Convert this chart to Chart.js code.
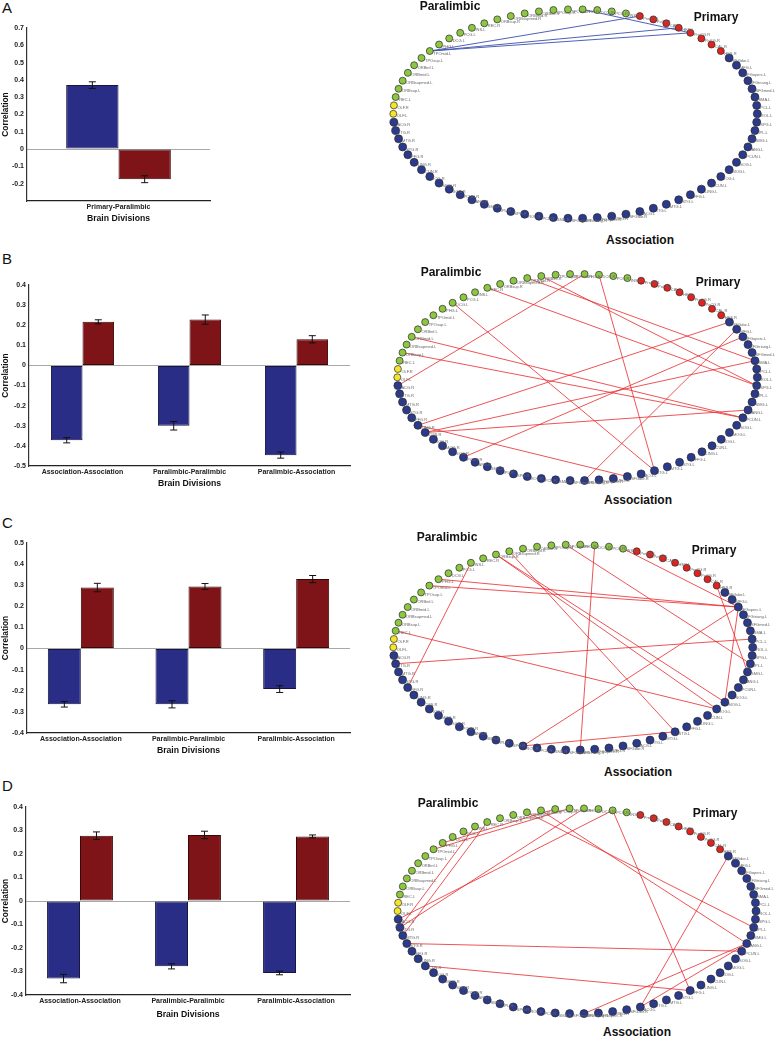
<!DOCTYPE html>
<html><head><meta charset="utf-8">
<script src="https://cdn.jsdelivr.net/npm/chart.js@4.4.1/dist/chart.umd.min.js"></script>
<style>
html,body{margin:0;padding:0;background:#fff}
body{width:776px;height:1037px;position:relative;overflow:hidden;font-family:"Liberation Sans",Arial,sans-serif}
canvas{position:absolute}
.letter{position:absolute;font-size:15px;color:#111;line-height:1}
.ttl{position:absolute;font-weight:bold;font-size:12px;color:#111;transform:translate(-50%,-50%);white-space:nowrap;line-height:1}
</style></head>
<body>
<div class="letter" style="left:2px;top:0px">A</div>
<div class="letter" style="left:2px;top:251px">B</div>
<div class="letter" style="left:2px;top:515px">C</div>
<div class="letter" style="left:2px;top:778px">D</div>

<canvas id="barA"></canvas><canvas id="barB"></canvas><canvas id="barC"></canvas><canvas id="barD"></canvas>
<canvas id="netA"></canvas><canvas id="netB"></canvas><canvas id="netC"></canvas><canvas id="netD"></canvas>

<div class="ttl" style="left:450px;top:6px">Paralimbic</div>
<div class="ttl" style="left:716px;top:17px">Primary</div>
<div class="ttl" style="left:640px;top:240px">Association</div>
<div class="ttl" style="left:451px;top:272px">Paralimbic</div>
<div class="ttl" style="left:718px;top:282px">Primary</div>
<div class="ttl" style="left:638px;top:500px">Association</div>
<div class="ttl" style="left:447px;top:537px">Paralimbic</div>
<div class="ttl" style="left:714px;top:550px">Primary</div>
<div class="ttl" style="left:638px;top:772px">Association</div>
<div class="ttl" style="left:448px;top:803px">Paralimbic</div>
<div class="ttl" style="left:715px;top:813px">Primary</div>
<div class="ttl" style="left:637px;top:1032px">Association</div>

<script>
// ---------------- bar chart data ----------------
const catsA = ['Primary-Paralimbic'];
const blueA = [0.370];  const blueErrA = [0.019];
const redA  = [-0.174]; const redErrA  = [0.020];
const ticksA = ['0.7','0.6','0.5','0.4','0.3','0.2','0.1','0','-0.1','-0.2'];

const catsBCD = ['Association-Association','Paralimbic-Paralimbic','Paralimbic-Association'];
const blueB = [-0.372,-0.300,-0.446]; const blueErrB = [0.013,0.021,0.015];
const redB  = [0.217,0.228,0.130];    const redErrB  = [0.010,0.023,0.018];
const ticksB = ['0.4','0.3','0.2','0.1','0','-0.1','-0.2','-0.3','-0.4','-0.5'];

const blueC = [-0.264,-0.264,-0.192]; const blueErrC = [0.013,0.017,0.016];
const redC  = [0.289,0.294,0.329];    const redErrC  = [0.020,0.014,0.017];
const ticksC = ['0.5','0.4','0.3','0.2','0.1','0','-0.1','-0.2','-0.3','-0.4'];

const blueD = [-0.330,-0.278,-0.306]; const blueErrD = [0.018,0.011,0.008];
const redD  = [0.278,0.281,0.275];    const redErrD  = [0.016,0.016,0.006];
const ticksD = ['0.4','0.3','0.2','0.1','0','-0.1','-0.2','-0.3','-0.4'];

// ---------------- network data ----------------
const nodeNames = ['OLF.L','OLF.R','REC.L','ORBsup.L','ORBsupmed.L','ORBmid.L','ORBinf.L','TPOsup.L','TPOmid.L','PHG.L','DCG.L','PCG.L','INS.L','REC.R','ORBsup.R','ORBsupmed.R','ORBmid.R','ORBinf.R','TPOsup.R','TPOmid.R','PHG.R','DCG.R','PCG.R','INS.R','PreCG.L','PoCG.L','CAL.L','HES.L','PreCG.R','PoCG.R','CAL.R','HES.R','SFGdor.L','MFG.L','IFGoperc.L','IFGtriang.L','SFGmed.L','SMA.L','PCL.L','ROL.L','SPG.L','IPL.L','SMG.L','ANG.L','PCUN.L','SOG.L','MOG.L','IOG.L','CUN.L','LING.L','FFG.L','STG.L','MTG.L','ITG.L','ACG.L','SFGdor.R','MFG.R','IFGoperc.R','IFGtriang.R','SFGmed.R','SMA.R','PCL.R','ROL.R','SPG.R','IPL.R','SMG.R','ANG.R','PCUN.R','SOG.R','MOG.R','IOG.R','CUN.R','LING.R','FFG.R','STG.R','MTG.R','ITG.R','ACG.R'];
const groupRuns = [['olfactory',2],['paralimbic',22],['primary',8],['association',46]];
const groupColors = {olfactory:'#f3e42c', paralimbic:'#8dc641', primary:'#e2221f', association:'#2c3a8c'};
const groupRadius = {olfactory:3.5, paralimbic:3.5, primary:3.5, association:4.0};

const edgesA = [['TPOmid.L','PreCG.L'],['TPOmid.L','PreCG.R'],['TPOmid.L','HES.L'],['PHG.R','PreCG.R']];
const edgesB = [['DCG.R','ITG.L'],['PHG.R','ACG.R'],['DCG.L','ITG.L'],['REC.R','SPG.L'],['ORBmid.R','SMA.L'],['ORBinf.R','SPG.L'],['ORBmid.L','PCUN.L'],['ORBsup.L','PCUN.L'],['SFGdor.L','LING.R'],['MFG.L','IFGtriang.R'],['IFGoperc.L','PCUN.R'],['SMA.L','CUN.R'],['ANG.L','CUN.R'],['LING.R','SFGdor.R']];
const edgesC = [['INS.R','IFGoperc.L'],['DCG.R','IFGtriang.R'],['TPOmid.R','IPL.L'],['ORBsup.R','MOG.L'],['ORBsup.R','IOG.L'],['ORBsupmed.R','STG.L'],['TPOmid.L','IFGoperc.L'],['PHG.L','IFGoperc.L'],['ITG.R','PCL.L'],['REC.L','IOG.L'],['FFG.R','INS.L'],['ROL.R','IFGoperc.L'],['ROL.R','STG.L'],['HES.R','SMG.L'],['MOG.L','IFGoperc.L']];
const edgesD = [['PCG.R','FFG.L'],['PHG.R','ITG.R'],['PCG.R','ACG.R'],['REC.R','MTG.R'],['ORBinf.R','ANG.L'],['ORBmid.R','IPL.L'],['TPOmid.L','TPOmid.R'],['PHG.L','TPOsup.R'],['STG.R','PCUN.L'],['CUN.R','FFG.L'],['IFGtriang.R','ANG.L'],['ACG.L','SFGdor.L'],['ACG.L','ANG.L'],['ITG.R','INS.L']];

// ---------------- helpers ----------------
const FONT = '"Liberation Sans", Arial, sans-serif';
const BLUE = '#2a2d86', RED = '#7e1417';

const errorBarPlugin = {
  id: 'errbars',
  afterDatasetsDraw(chart) {
    const ctx = chart.ctx, ys = chart.scales.y;
    chart.data.datasets.forEach((ds, i) => {
      const meta = chart.getDatasetMeta(i);
      meta.data.forEach((el, j) => {
        const v = ds.data[j], e = ds.errors[j];
        const y1 = ys.getPixelForValue(v - e), y2 = ys.getPixelForValue(v + e);
        ctx.save(); ctx.strokeStyle = '#111'; ctx.lineWidth = 1;
        ctx.beginPath();
        ctx.moveTo(el.x, y1); ctx.lineTo(el.x, y2);
        ctx.moveTo(el.x - 3.5, y1); ctx.lineTo(el.x + 3.5, y1);
        ctx.moveTo(el.x - 3.5, y2); ctx.lineTo(el.x + 3.5, y2);
        ctx.stroke(); ctx.restore();
      });
    });
  }
};

function fmt(v) { const r = Math.round(v * 10) / 10; return r === 0 ? '0' : r.toFixed(1); }

function makeBar(id, g, cats, blue, blueErr, red, redErr, tickLabels, min, max, catPct) {
  const cv = document.getElementById(id);
  const W = g.right + 5, top = g.top - 12, H = g.titleY + 7 - top;
  cv.width = W; cv.height = H; cv.style.left = '0px'; cv.style.top = top + 'px';
  cv.style.width = W + 'px'; cv.style.height = H + 'px';
  const xH = H - (g.bottom - top);
  new Chart(cv, {
    type: 'bar',
    data: { labels: cats, datasets: [
      { data: blue, errors: blueErr, backgroundColor: BLUE, borderColor: '#15173f', borderWidth: 1, borderSkipped: false },
      { data: red, errors: redErr, backgroundColor: RED, borderColor: '#3b0809', borderWidth: 1, borderSkipped: false }
    ]},
    options: {
      responsive: false, animation: false, devicePixelRatio: 1,
      layout: { padding: { top: g.top - top, right: W - g.right, left: 0, bottom: 0 } },
      plugins: { legend: { display: false }, tooltip: { enabled: false } },
      datasets: { bar: { categoryPercentage: catPct, barPercentage: 1 } },
      scales: {
        x: {
          grid: { display: false, drawTicks: false },
          border: { display: true, color: '#222', width: 1.2 },
          ticks: { color: '#222', padding: 2, maxRotation: 0, font: { family: FONT, size: 7, weight: 'bold' } },
          title: { display: true, text: 'Brain Divisions', color: '#111', padding: { top: 0, bottom: 0 },
                   font: { family: FONT, size: 8.7, weight: 'bold', lineHeight: 1.2 } },
          afterFit(s) { s.height = xH; }
        },
        y: {
          min: min, max: max,
          grid: { drawTicks: false, color: (c) => (c.tick && Math.abs(c.tick.value) < 1e-9) ? '#a8a8a8' : 'rgba(0,0,0,0)', lineWidth: 1 },
          border: { display: true, color: '#333', width: 1.2 },
          ticks: { stepSize: 0.1, padding: 3, color: '#222', font: { family: FONT, size: 7, weight: 'bold' },
                   callback: (v) => { const s = fmt(v); return tickLabels.includes(s) ? s : ''; } },
          title: { display: true, text: 'Correlation', color: '#111', padding: { top: 1, bottom: 0 },
                   font: { family: FONT, size: 8.3, weight: 'bold', lineHeight: 1.2 } },
          afterFit(s) { s.width = g.left; }
        }
      }
    },
    plugins: [errorBarPlugin]
  });
}

makeBar('barA', {left: 27, right: 210, top: 28, bottom: 201, titleY: 217}, catsA, blueA, blueErrA, redA, redErrA, ticksA, -0.3, 0.7, 0.572);
makeBar('barB', {left: 29, right: 350, top: 285, bottom: 466, titleY: 482}, catsBCD, blueB, blueErrB, redB, redErrB, ticksB, -0.5, 0.4, 0.59);
makeBar('barC', {left: 27, right: 350, top: 543, bottom: 733, titleY: 749}, catsBCD, blueC, blueErrC, redC, redErrC, ticksC, -0.4, 0.5, 0.613);
makeBar('barD', {left: 26, right: 350, top: 807, bottom: 995, titleY: 1013}, catsBCD, blueD, blueErrD, redD, redErrD, ticksD, -0.4, 0.4, 0.61);

// ---------------- network (circular layout) ----------------
const nodeGroup = [];
groupRuns.forEach(([g, n]) => { for (let i = 0; i < n; i++) nodeGroup.push(g); });
const N = nodeNames.length;
const layout = nodeNames.map((name, i) => { const a = Math.PI - i * 2 * Math.PI / N; return { x: Math.cos(a), y: Math.sin(a) }; });
const pos = (name) => layout[nodeNames.indexOf(name)];

const nodeLabelPlugin = {
  id: 'nodelabels',
  afterDatasetsDraw(chart) {
    const ctx = chart.ctx, xs = chart.scales.x, ys = chart.scales.y;
    ctx.save(); ctx.font = '4px ' + FONT; ctx.fillStyle = '#666'; ctx.textBaseline = 'middle';
    nodeNames.forEach((nm, i) => {
      ctx.fillText(nm, xs.getPixelForValue(layout[i].x) + 3.5, ys.getPixelForValue(layout[i].y) + 2.5);
    });
    ctx.restore();
  }
};

function makeNet(id, cx, cy, rx, ry, edges, color, lw) {
  const cv = document.getElementById(id);
  const L = 380, T = Math.round(cy - ry - 8), W = 776 - L, H = Math.round(2 * ry + 16);
  cv.width = W; cv.height = H; cv.style.left = L + 'px'; cv.style.top = T + 'px';
  cv.style.width = W + 'px'; cv.style.height = H + 'px';
  const datasets = edges.map(([a, b]) => ({
    type: 'line', data: [pos(a), pos(b)], borderColor: color, borderWidth: lw,
    pointRadius: 0, fill: false, order: 2, tension: 0
  }));
  datasets.push({
    type: 'scatter', data: layout, order: 1,
    pointRadius: nodeGroup.map(g => groupRadius[g]), pointBorderWidth: 0.7, pointBorderColor: '#2a2a2a',
    pointBackgroundColor: nodeGroup.map(g => groupColors[g])
  });
  new Chart(cv, {
    type: 'scatter',
    data: { datasets },
    options: {
      responsive: false, animation: false, devicePixelRatio: 1,
      layout: { padding: { left: cx - rx - L, right: L + W - (cx + rx), top: cy - ry - T, bottom: T + H - (cy + ry) } },
      plugins: { legend: { display: false }, tooltip: { enabled: false } },
      scales: { x: { type: 'linear', min: -1, max: 1, display: false }, y: { type: 'linear', min: -1, max: 1, display: false } },
      clip: false
    },
    plugins: [nodeLabelPlugin]
  });
}

makeNet('netA', 575.3, 113.8, 182, 104.5, edgesA, '#3b4fae', 0.9);
makeNet('netB', 577.3, 377.3, 180, 103.3, edgesB, '#e8282c', 0.8);
makeNet('netC', 573.0, 647.3, 179.7, 102.7, edgesC, '#e8282c', 0.8);
makeNet('netD', 576.8, 911.0, 179.2, 102.7, edgesD, '#e8282c', 0.8);
</script>
</body></html>
